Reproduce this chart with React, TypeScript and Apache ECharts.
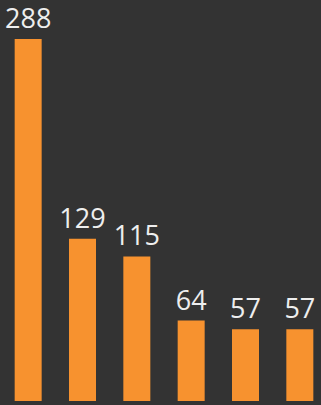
import React, { useEffect, useRef } from "react";
import * as echarts from "echarts";

const categories = ["A", "B", "C", "D", "E", "F"];
const values = [288, 129, 115, 64, 57, 57];

export default function App() {
  const ref = useRef<HTMLDivElement>(null);
  useEffect(() => {
    const chart = echarts.init(ref.current!, null, { renderer: "svg" });
    chart.setOption({
      animation: false,
      backgroundColor: "#333333",
      grid: { left: 1, top: 39, width: 326, height: 362 },
      xAxis: {
        type: "category",
        data: categories,
        show: false,
      },
      yAxis: { type: "value", min: 0, max: 288, show: false },
      series: [
        {
          type: "bar",
          data: values,
          barWidth: 27,
          itemStyle: { color: "#F7922F" },
          label: {
            show: true,
            position: "top",
            distance: 8,
            color: "#eeeeee",
            fontFamily: "Open Sans",
            fontSize: 27,
          },
        },
      ],
    });
    return () => chart.dispose();
  }, []);
  return (
    <div
      style={{
        position: "absolute",
        left: 0,
        top: 0,
        width: 321,
        height: 405,
        overflow: "hidden",
        background: "#333333",
      }}
    >
      <div ref={ref} style={{ width: 330, height: 405 }} />
    </div>
  );
}
